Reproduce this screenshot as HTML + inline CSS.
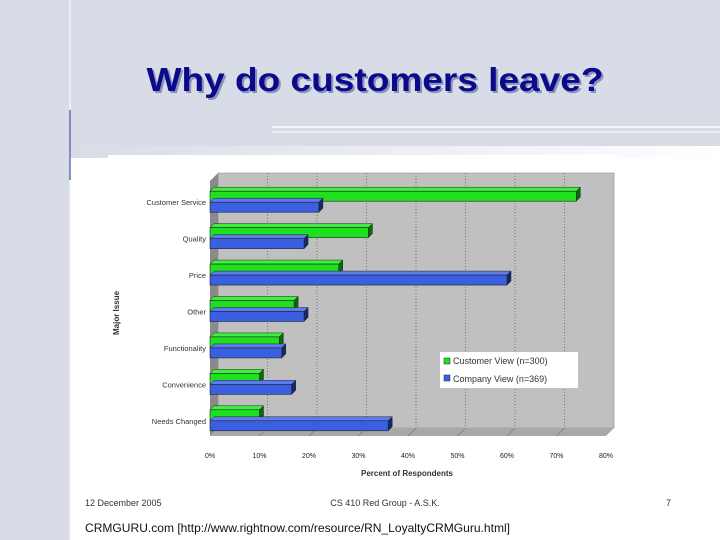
<!DOCTYPE html>
<html><head><meta charset="utf-8"><style>body{margin:0}svg{display:block}text{font-family:"Liberation Sans",Arial,sans-serif}</style></head>
<body>
<svg id="s" width="720" height="540" viewBox="0 0 720 540" xmlns="http://www.w3.org/2000/svg">
<defs>
<linearGradient id="fadeH" x1="0" x2="1"><stop offset="0" stop-color="#d8dce6"/><stop offset="1" stop-color="#fff"/></linearGradient>
<linearGradient id="lineFade" x1="0" x2="1"><stop offset="0" stop-color="#fff" stop-opacity="0"/><stop offset="0.5" stop-color="#4a4aa0"/><stop offset="1" stop-color="#fff" stop-opacity="0"/></linearGradient>
</defs>
<rect width="720" height="540" fill="#fff"/>
<rect width="720" height="146" fill="#d8dce6"/>
<rect x="0" y="146" width="70" height="394" fill="#d8dce6"/>
<rect x="70" y="146" width="650" height="12" fill="url(#fadeH)"/>
<line x1="70" y1="0" x2="70" y2="540" stroke="#f2f4f8" stroke-width="1.5"/>
<line x1="70" y1="110" x2="70" y2="180" stroke="#4a4aa0" stroke-width="1.2"/>
<line x1="20" y1="145" x2="115" y2="145" stroke="url(#lineFade)" stroke-width="1.5"/>
<line x1="272" y1="127" x2="720" y2="127" stroke="#fff" stroke-width="1.5"/>
<line x1="272" y1="132" x2="720" y2="132" stroke="#fff" stroke-width="1"/>
<text x="377" y="93" text-anchor="middle" font-size="33" font-weight="bold" fill="#8a90b8" textLength="457" lengthAdjust="spacingAndGlyphs">Why do customers leave?</text>
<text x="375" y="91" text-anchor="middle" font-size="33" font-weight="bold" fill="#0a0a8a" textLength="457" lengthAdjust="spacingAndGlyphs">Why do customers leave?</text>
<rect x="108" y="155" width="510" height="325" fill="#fff"/>
<g id="chart"></g>
<text x="85" y="506" font-size="9" fill="#333">12 December 2005</text>
<text x="385" y="506" font-size="9" fill="#333" text-anchor="middle">CS 410 Red Group - A.S.K.</text>
<text x="666" y="506" font-size="9" fill="#333">7</text>
<text x="85" y="532" font-size="12" fill="#111" textLength="425" lengthAdjust="spacingAndGlyphs">CRMGURU.com [http://www.rightnow.com/resource/RN_LoyaltyCRMGuru.html]</text>
</svg>
<script>
const categories=["Customer Service","Quality","Price","Other","Functionality","Convenience","Needs Changed"];
const customerView=[74,32,26,17,14,10,10];
const companyView=[22,19,60,19,14.5,16.5,36];
const ticks=[0,10,20,30,40,50,60,70,80];
const tickLabels=["0%","10%","20%","30%","40%","50%","60%","70%","80%"];
const NS="http://www.w3.org/2000/svg";
const g=document.getElementById('chart');
function el(t,a,p){const e=document.createElementNS(NS,t);for(const k in a)e.setAttribute(k,a[k]);(p||g).appendChild(e);return e;}
const X0=210,X1=606,TOP=181,BOT=436,D=8;
const x=v=>X0+(v-ticks[0])/(ticks[ticks.length-1]-ticks[0])*(X1-X0);
const band=(BOT-TOP)/categories.length;
const yc=i=>TOP+band*(i+0.5)+4;
let w=el('polygon',{points:`${X0+D},${TOP-D} ${X1+D},${TOP-D} ${X1+D},${BOT-D} ${X0+D},${BOT-D}`,fill:'#c0c0c0',stroke:'#888','stroke-width':0.6});

w=el('polygon',{points:`${X0},${TOP} ${X0+D},${TOP-D} ${X0+D},${BOT-D} ${X0},${BOT}`,fill:'#8a8a8a'});

w=el('polygon',{points:`${X0},${BOT} ${X0+D},${BOT-D} ${X1+D},${BOT-D} ${X1},${BOT}`,fill:'#a8a8a8'});

ticks.forEach((t,i)=>{
  if(i>0&&i<ticks.length-1){const l=el('line',{x1:x(t)+D,y1:TOP-D,x2:x(t)+D,y2:BOT-D,stroke:'#555','stroke-dasharray':'1,2','stroke-width':0.7});
  
  el('line',{x1:x(t),y1:BOT,x2:x(t)+D,y2:BOT-D,stroke:'#777','stroke-width':0.6});}
  const tx=el('text',{x:x(t),y:BOT+22,'font-size':7,'text-anchor':'middle',fill:'#222'});tx.textContent=tickLabels[i];
  
});
function bar(v,y,h,front,top,side,name){
  const a=x(0),b=x(v),d=4;
  const gg=el('g',{});
  el('polygon',{points:`${a},${y} ${a+d},${y-d} ${b+d},${y-d} ${b},${y}`,fill:top,stroke:'#222','stroke-width':0.5},gg);
  el('polygon',{points:`${b},${y} ${b+d},${y-d} ${b+d},${y+h-d} ${b},${y+h}`,fill:side,stroke:'#222','stroke-width':0.5},gg);
  el('rect',{x:a,y:y,width:b-a,height:h,fill:front,stroke:'#222','stroke-width':0.6},gg);
}
categories.forEach((c,i)=>{
  const y=yc(i);
  bar(customerView[i],y-12,10,'#1fe01f','#3cf03c','#0a6a0a','bar-customer-'+i);
  bar(companyView[i],y-1,10,'#3a5fe0','#5a7cf0','#15286a','bar-company-'+i);
  const t=el('text',{x:X0-4,y:y+2,'font-size':7.5,'text-anchor':'end',fill:'#333'});t.textContent=c;
  
});
let t=el('text',{x:0,y:0,'font-size':8,'font-weight':'bold',fill:'#333','text-anchor':'middle',transform:'translate(119,313) rotate(-90)'});t.textContent='Major Issue';

t=el('text',{x:407,y:476,'font-size':8,'font-weight':'bold',fill:'#333','text-anchor':'middle'});t.textContent='Percent of Respondents';

const lg=el('g',{});
el('rect',{x:440,y:352,width:138,height:36,fill:'#fff'},lg);
el('rect',{x:444,y:358,width:6,height:6,fill:'#1fe01f',stroke:'#222','stroke-width':0.5},lg);
el('rect',{x:444,y:375,width:6,height:6,fill:'#3a5fe0',stroke:'#222','stroke-width':0.5},lg);
t=el('text',{x:453,y:364,'font-size':9,fill:'#333'},lg);t.textContent='Customer View (n=300)';

t=el('text',{x:453,y:382,'font-size':9,fill:'#333'},lg);t.textContent='Company View (n=369)';

</script>
</body></html>
